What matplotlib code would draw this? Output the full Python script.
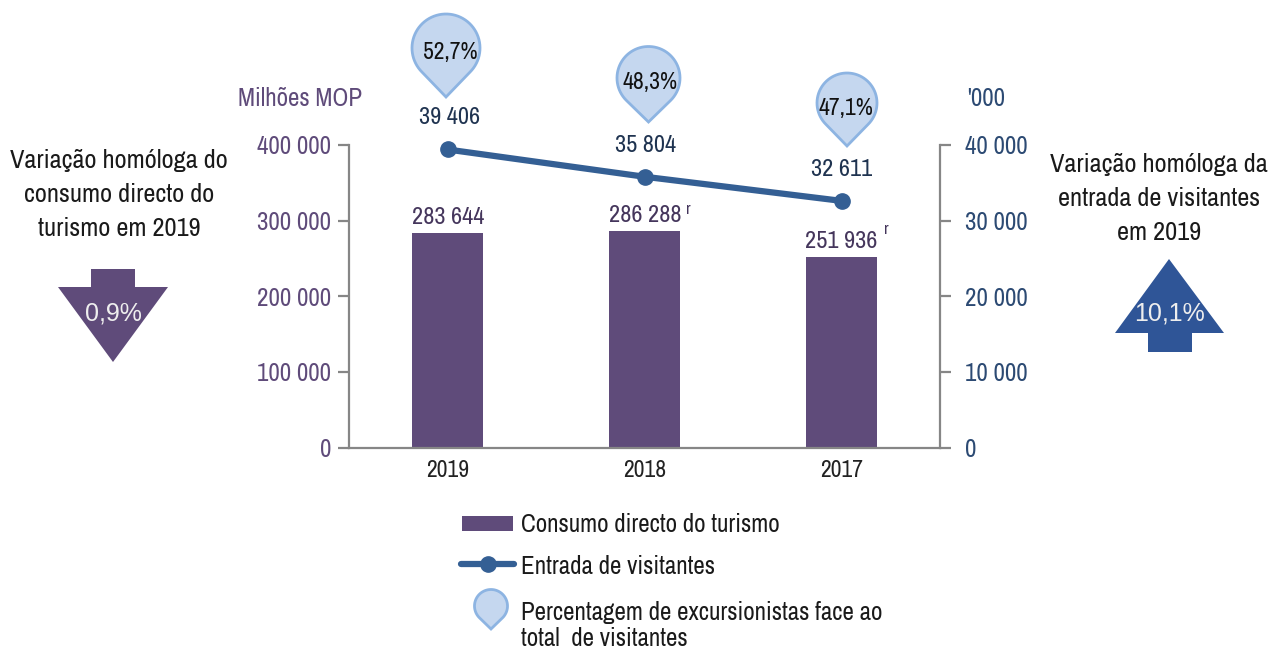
import numpy as np
import matplotlib
matplotlib.use('Agg')
import matplotlib.pyplot as plt
from matplotlib.patches import Polygon, Rectangle
from matplotlib import font_manager as fm

names = set(f.name for f in fm.fontManager.ttflist)
font = 'Liberation Sans'
for n in ['Liberation Sans Narrow', 'Archivo Narrow', 'PT Sans Narrow', 'Roboto Condensed', 'Open Sans Condensed']:
	if n in names:
		font = n
		break
plt.rcParams['font.family'] = [font, 'Liberation Sans', 'DejaVu Sans']

years = ['2019', '2018', '2017']
consumo = [283644, 286288, 251936]
consumo_lbl = ['283 644', '286 288', '251 936']
revised = ['', 'r', 'r']
visitantes = [39406, 35804, 32611]
visitantes_lbl = ['39 406', '35 804', '32 611']
excursionistas = ['52,7%', '48,3%', '47,1%']
left_ticks = [0, 100000, 200000, 300000, 400000]
left_labels = ['0', '100 000', '200 000', '300 000', '400 000']
right_ticks = [0, 10000, 20000, 30000, 40000]
right_labels = ['0', '10 000', '20 000', '30 000', '40 000']

PURPLE = '#5f4b7a'
BLUE = '#345f94'
TICK_BLUE = '#2c4a73'
ARROW_BLUE = '#2f5597'
GREY = '#868686'
DROP_FILL = '#c5d7ef'
DROP_EDGE = '#8db4e2'
W, H = 1269, 648
FS = 18

fig = plt.figure(figsize=(W/100, H/100), dpi=100)
ax = fig.add_axes([349/W, 1-447.5/H, 591/W, 302.5/H])
x = np.arange(3)
ax.bar(x, consumo, width=0.36, color=PURPLE)
ax.set_xlim(-0.5, 2.5)
ax.set_ylim(0, 400000)
ax.set_yticks(left_ticks, left_labels, fontsize=FS, color=PURPLE)
ax.set_xticks(x, years, fontsize=FS-1, color='#222222')
ax.tick_params(axis='x', length=0, pad=9)
ax.tick_params(axis='y', length=8, width=1.6, color=GREY, pad=5)
for s in ['top', 'right']:
	ax.spines[s].set_visible(False)
for s in ['left', 'bottom']:
	ax.spines[s].set_color(GREY)
	ax.spines[s].set_linewidth(1.6)

ax2 = ax.twinx()
ax2.plot(x, visitantes, color=BLUE, lw=4.5, marker='o', ms=11, solid_capstyle='round', clip_on=False)
ax2.set_ylim(0, 40000)
ax2.set_yticks(right_ticks, right_labels, fontsize=FS, color=TICK_BLUE)
ax2.tick_params(axis='y', length=8, width=1.6, color=GREY, pad=10)
for s in ['top', 'left', 'bottom']:
	ax2.spines[s].set_visible(False)
ax2.spines['right'].set_color(GREY)
ax2.spines['right'].set_linewidth(1.6)

# overlay in picture pixels for the annotation shapes and free text
ov = fig.add_axes([0, 0, 1, 1], zorder=5)
ov.set_xlim(0, W); ov.set_ylim(H, 0); ov.axis('off')
ov.patch.set_alpha(0)

def drop(cx, cy, r, tip):
	# teardrop: circle arc with a point straight below
	a = np.deg2rad(45)
	ang = np.linspace(np.pi/2 + a, 2.5*np.pi - a, 60)
	px = cx + r*np.cos(ang)
	py = cy + r*np.sin(ang)
	pts = [(cx, tip)] + list(zip(px, py)) + [(cx, tip)]
	ov.add_patch(Polygon(pts, closed=True, fc=DROP_FILL, ec=DROP_EDGE, lw=2, joinstyle='miter'))

drop(446, 48, 34, 97)
ov.text(450, 53, excursionistas[0], fontsize=FS-1, color='#111111', ha='center', va='center')
drop(648.5, 78, 31.5, 122)
ov.text(650, 82, excursionistas[1], fontsize=FS-1, color='#111111', ha='center', va='center')
drop(847, 103, 30, 146)
ov.text(846, 108, excursionistas[2], fontsize=FS-1, color='#111111', ha='center', va='center')

for lx, ly, t in zip([450, 646, 842], [118, 146, 170], visitantes_lbl):
	ov.text(lx, ly, t, fontsize=FS-0.5, color='#1f3350', ha='center', va='center')
for lx, ly, t in zip([448, 645, 841], [217, 215, 241], consumo_lbl):
	ov.text(lx, ly, t, fontsize=FS-0.5, color='#45365c', ha='center', va='center')
ov.text(688, 209, revised[1], fontsize=12, color='#45365c', ha='center', va='center')
ov.text(886, 230, revised[2], fontsize=12, color='#45365c', ha='center', va='center')

ov.text(300, 98, 'Milhões MOP', fontsize=FS, color=PURPLE, ha='center', va='center')
ov.text(986, 99, "'000", fontsize=FS, color=TICK_BLUE, ha='center', va='center')

for y, t in zip([161, 195, 229], ['Variação homóloga do', 'consumo directo do', 'turismo em 2019']):
	ov.text(119, y, t, fontsize=FS+1, color='#1a1a1a', ha='center', va='center')
for y, t in zip([165, 199, 233], ['Variação homóloga da', 'entrada de visitantes', 'em 2019']):
	ov.text(1159, y, t, fontsize=FS+1, color='#1a1a1a', ha='center', va='center')

ov.add_patch(Polygon([(91, 269), (135, 269), (135, 287), (168, 287), (113, 362), (58, 287), (91, 287)], closed=True, fc=PURPLE, ec='none'))
ov.text(113, 313, '0,9%', fontsize=18, color='#eeeeee', ha='center', va='center', family='Liberation Sans')
ov.add_patch(Polygon([(1148, 352), (1192, 352), (1192, 333), (1224, 333), (1169, 259), (1115, 333), (1148, 333)], closed=True, fc=ARROW_BLUE, ec='none'))
ov.text(1170, 313, '10,1%', fontsize=18, color='#eeeeee', ha='center', va='center', family='Liberation Sans')

# legend
ov.add_patch(Rectangle((462, 516), 51, 15, fc=PURPLE, ec='none'))
ov.plot([461, 514], [564, 564], color=BLUE, lw=4.5, solid_capstyle='round')
ov.plot([488], [564], color=BLUE, marker='o', ms=11)
drop(491, 606, 16.5, 629)
ov.text(521, 525, 'Consumo directo do turismo', fontsize=FS, color='#1a1a1a', va='center')
ov.text(521, 566, 'Entrada de visitantes', fontsize=FS, color='#1a1a1a', va='center')
ov.text(521, 612, 'Percentagem de excursionistas face ao', fontsize=FS, color='#1a1a1a', va='center')
ov.text(521, 639, 'total  de visitantes', fontsize=FS, color='#1a1a1a', va='center')

fig.savefig('out.png', dpi=100)
